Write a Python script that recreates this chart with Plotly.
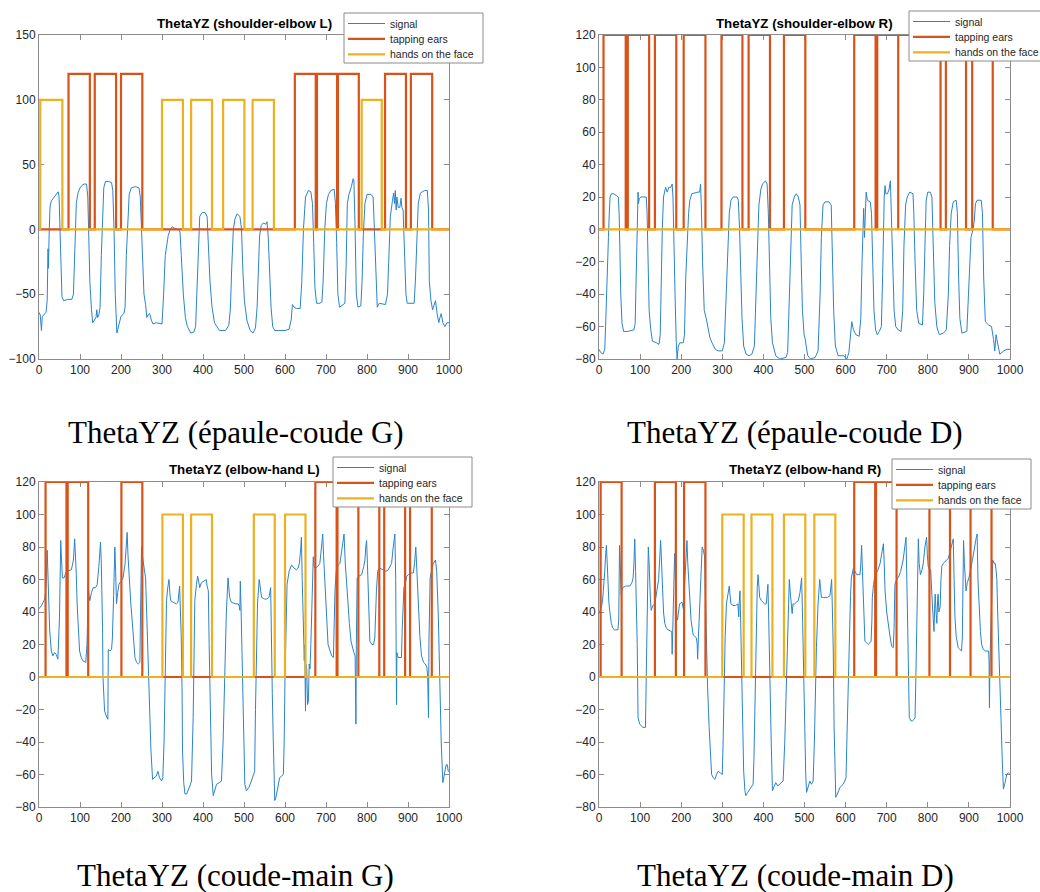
import plotly.graph_objects as go

# ---------------- data ----------------
TAP_LEVEL = 120
FACE_LEVEL = 100
X_END = 1000

titles = ["ThetaYZ (shoulder-elbow L)", "ThetaYZ (shoulder-elbow R)",
          "ThetaYZ (elbow-hand L)", "ThetaYZ (elbow-hand R)"]
captions = ["ThetaYZ (épaule-coude G)", "ThetaYZ (épaule-coude D)",
            "ThetaYZ (coude-main G)", "ThetaYZ (coude-main D)"]
series_names = ["signal", "tapping ears", "hands on the face"]

# Signal 1: shoulder-elbow L
sig1_x = [0,3,6,8,12,17,20,22,23,25,27,30,35,40,45,47,49,51,53,56,60,70,80,84,88,91,95,100,105,110,116,119,121,124,128,131,135,139,141,143,146,149,152,155,158,162,170,177,180,183,186,190,193,196,200,207,210,213,217,220,225,235,244,247,250,253,256,260,263,266,270,274,278,285,300,304,308,315,320,325,330,340,344,347,352,357,362,370,378,382,385,388,392,398,405,410,413,417,422,428,440,455,463,467,470,474,478,483,490,494,497,501,507,515,522,528,532,535,538,542,547,553,556,559,562,566,570,575,585,600,610,615,618,622,628,637,641,645,650,657,663,667,670,673,677,685,690,693,697,701,706,712,720,723,726,729,733,740,746,749,752,756,762,766,768,771,774,778,785,788,791,795,800,810,815,818,822,825,830,845,850,853,857,862,865,867,869,871,873,876,880,883,885,888,891,895,898,905,915,918,922,925,930,940,947,950,952,956,960,963,967,971,975,978,981,985,990,995,1000]
sig1_y = [-64,-66,-78,-67,-66,-64,-55,-15,-30,0,18,22,24,26,28,29,25,0,-35,-52,-55,-54,-54,-50,-10,20,28,32,34,35,35,25,0,-40,-62,-72,-70,-68,-62,-68,-66,-60,-20,15,32,37,37,36,30,0,-50,-80,-76,-70,-67,-65,-60,-20,10,27,32,33,32,25,0,-30,-50,-58,-68,-66,-65,-70,-73,-72,-73,-50,-20,-5,0,2,1,0,-2,-20,-50,-68,-75,-80,-79,-75,-50,-10,10,13,13,10,-10,-40,-60,-72,-78,-78,-74,-60,-30,0,8,12,10,0,-30,-55,-70,-78,-80,-76,-60,-30,-5,3,5,4,6,-5,-35,-60,-75,-78,-78,-78,-77,-70,-58,-60,-61,-61,-40,0,25,30,29,20,-10,-45,-57,-57,-56,-40,0,20,27,30,31,20,-10,-50,-60,-58,-57,-30,20,27,33,39,38,0,-50,-60,-59,-40,-5,20,27,27,25,0,-45,-60,-57,-58,-50,-20,10,22,28,20,30,15,25,17,17,24,17,15,-20,-50,-57,-57,-57,-40,0,20,28,30,30,15,-40,-55,-62,-58,-55,-65,-72,-68,-65,-72,-75,-72,-72]

# Signal 2: shoulder-elbow R
sig2_x = [0,4,10,14,16,18,20,21,23,25,27,30,35,42,47,49,51,53,56,60,70,85,88,90,92,93,95,96,98,102,115,117,119,122,126,130,140,146,149,151,154,157,160,162,166,170,175,178,180,182,185,188,190,193,197,205,208,211,215,218,221,226,240,245,247,249,252,256,261,266,270,275,283,290,300,305,309,313,317,321,326,336,339,342,345,348,352,358,365,372,378,382,385,389,394,398,405,409,412,415,418,422,430,440,455,459,462,466,470,475,480,485,489,492,495,499,502,504,508,515,526,533,538,541,545,550,560,565,568,571,575,582,595,603,608,612,615,619,625,633,637,640,642,644,646,648,650,653,660,663,666,669,673,677,682,687,690,692,694,696,698,702,706,709,711,714,718,722,728,735,739,742,746,750,756,764,766,769,773,778,787,790,793,796,800,806,810,813,817,822,828,838,845,850,853,857,862,869,872,875,878,883,895,899,902,905,910,913,916,920,930,933,936,940,948,955,960,963,966,970,975,985,992,1000]
sig2_y = [-74,-76,-77,-74,-60,-40,-20,-12,-5,10,20,22,22,21,20,10,-20,-40,-58,-63,-63,-62,-58,-30,-20,0,23,16,19,20,20,10,-20,-50,-62,-69,-70,-71,-65,-30,0,20,23,26,23,26,26,28,20,-10,-40,-70,-80,-72,-70,-70,-65,-30,-5,10,18,22,23,23,28,15,-20,-50,-55,-62,-67,-70,-74,-75,-75,-70,-40,-10,10,18,20,20,18,0,-30,-55,-72,-77,-78,-77,-72,-40,-10,15,25,28,30,28,10,-30,-55,-70,-78,-80,-79,-76,-50,-10,15,20,22,20,15,-20,-50,-65,-68,-72,-78,-80,-79,-75,-40,-5,15,17,17,15,-20,-50,-72,-78,-78,-80,-76,-65,-57,-62,-65,-66,-55,-20,10,13,-5,5,23,18,17,10,-20,-50,-62,-65,-63,-60,-30,0,20,27,22,22,25,30,15,-20,-50,-60,-62,-63,-50,-10,15,20,23,22,10,-20,-50,-58,-59,-40,0,18,23,23,20,-10,-45,-60,-65,-64,-62,-40,-10,10,17,18,10,-30,-55,-64,-63,-40,-20,-5,0,5,16,18,18,10,-30,-57,-59,-60,-68,-75,-65,-70,-77,-75,-74,-74]

# Signal 3: elbow-hand L
sig3_x = [0,6,14,17,20,22,24,26,30,34,38,42,46,48,50,53,55,57,61,67,79,84,87,89,91,93,95,99,103,107,114,117,119,120,122,124,128,132,138,142,146,150,152,154,155,156,158,160,164,168,169,173,177,179,182,185,187,189,192,195,200,205,210,215,217,220,224,229,234,238,242,246,248,250,252,254,257,260,262,264,267,270,273,277,282,286,290,294,299,302,305,308,311,314,317,319,321,327,335,339,341,343,345,347,349,350,353,356,360,364,368,372,374,376,378,380,384,387,390,392,396,402,408,410,413,415,418,421,425,429,433,440,445,449,453,457,461,463,465,469,480,486,489,490,491,493,496,499,502,506,512,518,524,526,528,530,533,537,540,543,550,555,561,565,566,567,569,571,573,575,578,581,587,596,598,600,603,605,610,616,622,628,632,635,638,640,642,644,646,647,648,650,651,653,655,657,659,661,663,665,667,669,671,673,680,685,689,692,694,696,698,701,705,710,714,718,720,722,725,727,734,740,744,747,750,754,757,761,764,768,771,772,773,774,776,780,787,792,795,797,799,801,803,805,807,812,816,819,821,823,826,830,840,846,852,857,860,864,868,870,871,872,873,876,880,884,886,888,890,893,897,901,907,913,916,919,921,925,929,933,938,942,946,948,950,951,954,958,962,967,970,974,976,978,981,985,988,990,993,996,998,1000]
sig3_y = [42,44,48,55,78,55,40,29,16,13,15,14,11,20,37,84,70,61,61,65,66,72,85,75,63,45,33,16,12,10,9,20,40,57,50,47,52,55,55,57,68,83,70,51,30,0,-15,-21,-24,-26,17,16,17,24,50,80,65,45,52,57,59,61,70,89,75,59,45,29,12,9,8,9,40,80,75,70,66,61,45,18,-5,-25,-45,-63,-62,-61,-58,-62,-64,-62,-40,0,47,55,60,52,47,46,45,46,50,56,40,24,-10,-45,-65,-72,-72,-70,-67,-64,-50,-25,10,47,57,62,58,55,58,59,60,56,53,20,-30,-60,-73,-70,-66,-65,-64,-40,0,40,61,55,49,46,45,45,43,41,59,40,-4,-45,-66,-70,-68,-64,-60,-58,-20,16,45,60,55,49,48,48,49,55,40,16,-10,-35,-60,-76,-74,-70,-62,-60,-40,0,40,57,65,69,67,66,67,70,78,86,60,29,14,10,20,-21,8,5,-17,-15,8,5,20,37,60,74,68,67,68,70,80,88,75,66,55,41,20,16,13,12,40,54,65,68,70,80,88,70,57,40,33,22,18,15,13,0,-29,20,61,62,63,68,72,80,84,70,53,35,22,20,20,24,40,53,65,67,66,65,66,68,70,80,88,60,30,-17,15,12,12,12,30,47,55,57,62,63,64,64,70,80,70,41,25,13,9,8,6,0,-25,20,61,66,70,72,65,37,10,-15,-40,-65,-60,-56,-54,-54,-58,-58]

# Signal 4: elbow-hand R
sig4_x = [0,3,6,9,11,14,16,18,20,22,24,26,30,34,38,46,48,50,52,54,56,58,65,75,80,83,85,87,89,91,93,95,97,99,103,107,113,115,117,119,120,122,123,125,127,131,136,140,145,150,152,154,157,160,164,168,174,177,178,179,181,184,186,187,189,191,194,196,202,206,208,211,214,216,219,224,229,233,237,239,240,242,244,247,251,254,257,259,261,264,268,271,274,278,282,286,290,295,300,302,304,307,310,314,317,319,321,326,332,338,340,341,343,345,347,350,352,355,357,362,367,371,375,377,379,381,383,385,387,389,391,395,399,403,407,409,411,413,416,419,422,426,430,435,440,448,452,456,459,463,466,468,470,472,476,480,485,489,493,495,497,500,503,505,509,513,517,521,524,527,529,533,537,539,541,546,550,556,562,564,566,568,570,572,574,576,580,586,590,594,598,601,603,606,609,612,614,617,619,623,627,632,635,637,639,641,643,645,647,651,655,659,662,664,665,668,671,675,679,684,688,692,694,696,700,704,708,712,716,718,720,724,728,734,740,744,747,749,751,753,755,759,763,767,769,771,773,775,777,779,782,786,789,793,797,799,801,804,807,810,812,814,815,817,818,820,822,824,825,827,830,832,834,838,842,846,850,855,859,862,864,866,869,874,878,882,884,885,887,889,893,896,900,905,909,914,918,920,922,925,928,931,935,940,944,948,949,950,951,952,955,958,961,964,966,968,970,972,975,978,981,984,988,992,996,1000]
sig4_y = [39,41,43,48,53,65,75,81,70,53,46,41,33,30,29,29,35,81,65,51,54,55,56,56,58,61,70,85,65,47,20,-25,-28,-29,-30,-31,-31,0,20,60,80,70,57,48,41,44,45,51,60,84,70,51,40,33,30,29,28,28,14,28,45,76,60,47,38,35,42,45,46,41,55,70,84,70,53,35,26,25,24,20,11,25,37,55,80,78,74,50,26,-5,-31,-50,-60,-62,-63,-60,-58,-59,-60,-40,-4,25,45,52,56,50,45,44,44,45,37,45,53,30,-4,-35,-58,-70,-73,-71,-69,-67,-66,-50,-25,10,41,55,63,55,49,47,46,45,45,50,57,35,6,-40,-70,-67,-65,-67,-66,-64,-40,-4,30,60,50,45,39,45,45,46,47,52,61,40,12,-30,-60,-71,-68,-64,-66,-64,-40,0,18,45,60,55,49,49,49,49,50,55,60,40,16,-30,-60,-74,-72,-68,-67,-66,-64,-62,-40,-4,30,50,61,65,67,65,63,63,63,70,81,65,47,35,22,21,20,21,22,35,49,57,62,64,66,70,75,82,70,53,40,31,25,19,18,30,57,60,61,65,72,80,86,60,37,0,-25,-27,-27,-26,-25,0,37,70,85,70,63,66,70,80,86,75,68,66,66,50,37,28,28,45,51,40,33,48,51,40,43,60,68,70,71,72,73,78,82,85,60,37,25,18,17,16,24,50,84,70,53,58,61,67,74,80,86,88,60,41,28,20,17,16,16,16,10,-19,5,16,50,72,70,70,66,60,40,26,0,-25,-50,-69,-65,-60,-59,-60]

sig_x = [sig1_x, sig2_x, sig3_x, sig4_x]
sig_y = [sig1_y, sig2_y, sig3_y, sig4_y]

# Label intervals (start, end)
tap1 = [(72,124),(136,188),(200,252),(624,675),(678,727),(729,780),(844,895),(907,959)]
face1 = [(3,57),(300,351),(371,422),(449,501),(521,573),(787,836)]
tap2 = [(11,65),(70,122),(136,188),(206,259),(298,349),(364,416),(450,502),(621,673),(677,728),(728,831),(844,893),(908,958)]
face2 = []
tap3 = [(16,67),(70,120),(201,252),(674,726),(728,779),(779,830),(842,893),(905,958)]
face3 = [(301,351),(371,422),(524,575),(600,650)]
tap4 = [(4,55),(136,187),(207,259),(621,672),(674,724),(724,804),(804,854),(854,904),(904,955)]
face4 = [(300,352),(371,422),(450,502),(524,575)]

taps = [tap1, tap2, tap3, tap4]
faces = [face1, face2, face3, face4]

y_ranges = [(-100, 150, 50), (-80, 120, 20), (-80, 120, 20), (-80, 120, 20)]

# ---------------- style ----------------
W, H = 1040, 892
C_SIG = "#2a84c9"
C_TAP = "#D95319"
C_FACE = "#EDB120"
colors = [C_SIG, C_TAP, C_FACE]
widths = [1, 2.2, 2.2]
AX_COL = "#8c8c8c"
TXT_COL = "#262626"
SANS = "Liberation Sans, Arial"

# axes boxes in pixels (left, right, top, bottom)
boxes = [(39, 449, 35, 359), (599, 1010, 35, 359),
         (39, 449, 482, 807), (599, 1010, 482, 807)]
legend_box = [(344, 13), (909, 11), (333, 457), (892, 459)]   # left, top
LEG_W, LEG_H = 139, 50
title_y = [24, 24, 470, 470]
caption_pos = [(236, 432), (795, 432), (235, 875), (795, 875)]


def pulse_series(intervals, level):
    xs, ys = [0], [0]
    for s, e in intervals:
        xs += [s, s, e, e]
        ys += [0, level, level, 0]
    xs.append(X_END)
    ys.append(0)
    return xs, ys


def px(x):
    return x / W


def py(y):
    return 1 - y / H


fig = go.Figure()
shapes, annotations = [], []
layout = dict(
    width=W, height=H,
    margin=dict(l=0, r=0, t=0, b=0, autoexpand=False),
    paper_bgcolor="white", plot_bgcolor="white",
    showlegend=False,
)

for i in range(4):
    k = "" if i == 0 else str(i + 1)
    xa, ya = "x" + k, "y" + k
    tx, ty = pulse_series(taps[i], TAP_LEVEL)
    fx, fy = pulse_series(faces[i], FACE_LEVEL)
    for (xx, yy), name, col, w in zip([(sig_x[i], sig_y[i]), (tx, ty), (fx, fy)],
                                      series_names, colors, widths):
        fig.add_trace(go.Scatter(x=xx, y=yy, mode="lines", name=name,
                                 line=dict(color=col, width=w), xaxis=xa, yaxis=ya))

    l, r, t, b = boxes[i]
    ymin, ymax, dy = y_ranges[i]
    axis_common = dict(showline=True, linecolor=AX_COL, linewidth=1, mirror="ticks",
                       ticks="inside", ticklen=5, tickcolor=AX_COL, tickwidth=1,
                       showgrid=False, zeroline=False, layer="below traces",
                       tickfont=dict(family=SANS, size=12, color=TXT_COL))
    layout["xaxis" + k] = dict(domain=[px(l), px(r)], anchor=ya, range=[0, X_END],
                               tick0=0, dtick=100, **axis_common)
    layout["yaxis" + k] = dict(domain=[py(b), py(t)], anchor=xa, range=[ymin, ymax],
                               tick0=ymin, dtick=dy, **axis_common)

    # legend box (drawn over the plot)
    lx, ly = legend_box[i]
    shapes.append(dict(type="rect", xref="paper", yref="paper",
                       x0=px(lx), x1=px(lx + LEG_W), y0=py(ly), y1=py(ly + LEG_H),
                       fillcolor="white", line=dict(color="#8c8c8c", width=1), layer="above"))
    for j, (name, col, w) in enumerate(zip(series_names, colors, widths)):
        ry = ly + 10.5 + j * 15.4
        shapes.append(dict(type="line", xref="paper", yref="paper",
                           x0=px(lx + 4), x1=px(lx + 41), y0=py(ry), y1=py(ry),
                           line=dict(color=col, width=w), layer="above"))
        annotations.append(dict(x=px(lx + 44), y=py(ry), xref="paper", yref="paper",
                                text=name, showarrow=False, xanchor="left", yanchor="middle",
                                font=dict(family=SANS, size=10.5, color=TXT_COL)))

    annotations.append(dict(
        x=px((l + r) / 2), y=py(title_y[i]), xref="paper", yref="paper",
        text="<b>" + titles[i] + "</b>", showarrow=False, xanchor="center", yanchor="middle",
        font=dict(family=SANS, size=13.3, color="black")))
    cx, cy = caption_pos[i]
    annotations.append(dict(
        x=px(cx), y=py(cy), xref="paper", yref="paper",
        text=captions[i], showarrow=False, xanchor="center", yanchor="middle",
        font=dict(family="Liberation Serif, serif", size=31, color="black")))

layout["shapes"] = shapes
layout["annotations"] = annotations
fig.update_layout(**layout)
fig.write_html("out.html")
